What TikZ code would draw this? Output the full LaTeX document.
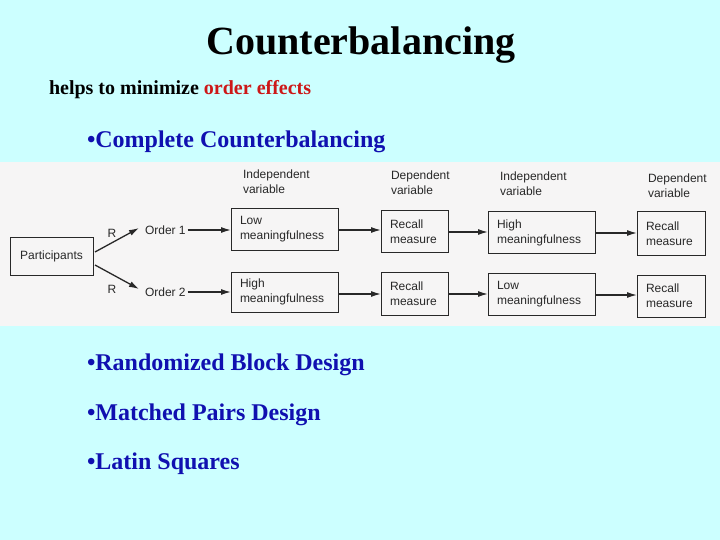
\documentclass[tikz,border=0pt]{standalone}
\usepackage{fontspec}
\setmainfont{Liberation Serif}
\newfontfamily\diagfont{Liberation Sans}
\usetikzlibrary{arrows.meta}
\definecolor{bgcyan}{RGB}{204,255,255}
\definecolor{photo}{RGB}{246,245,245}
\definecolor{bulletblue}{RGB}{16,16,176}
\definecolor{ordred}{RGB}{204,24,24}
\definecolor{ink}{RGB}{40,40,40}
\begin{document}
\begin{tikzpicture}[x=1pt,y=-1pt,
  every node/.style={inner sep=0pt, outer sep=0pt},
  heading/.style={font=\fontsize{40}{44}\selectfont\bfseries, anchor=base},
  sub/.style={font=\fontsize{20}{23}\selectfont\bfseries, anchor=base west},
  bul/.style={font=\fontsize{24}{28}\selectfont\bfseries, text=bulletblue, anchor=base west},
  box/.style={draw=ink, line width=1pt, anchor=north west, align=left,
    font=\diagfont\fontsize{12}{15}\selectfont, text=ink, inner xsep=9pt},
  lbl/.style={font=\diagfont\fontsize{12}{15}\selectfont, text=ink, align=left, anchor=north west},
  arr/.style={draw=ink, line width=1.3pt, -{Latex[length=10pt,width=6pt]}}
]
\useasboundingbox (0,0) rectangle (720,540);
\fill[bgcyan] (0,0) rectangle (720,540);
\fill[photo] (0,162) rectangle (720,326);

\node[heading] (title) at (361,55) {Counterbalancing};
\node[sub] (subt) at (49,95) {helps to minimize \textcolor{ordred}{order effects}};
\node[bul] (b1) at (87,148) {•Complete Counterbalancing};
\node[bul] (b2) at (87,370) {•Randomized Block Design};
\node[bul] (b3) at (87,420) {•Matched Pairs Design};
\node[bul] (b4) at (87,469) {•Latin Squares};

% diagram
\node[box, minimum width=83pt, minimum height=38pt, inner xsep=8pt] (part) at (10,237) {Participants};
\node[lbl, anchor=west] (o1) at (145,230) {Order 1};
\node[lbl, anchor=west] (o2) at (145,292) {Order 2};
\node[lbl, anchor=center] (r1) at (112,233) {R};
\node[lbl, anchor=center] (r2) at (112,289) {R};

\node[box, text width=89pt, minimum height=41pt, inner xsep=9pt] (lm1) at (231,209) {Low\\meaningfulness};
\node[box, text width=89pt, minimum height=40pt, inner xsep=9pt] (hm1) at (231,272) {High\\meaningfulness};
\node[box, text width=49pt, minimum height=41pt, inner xsep=9pt] (rc1) at (381,211) {Recall\\measure};
\node[box, text width=49pt, minimum height=43pt, inner xsep=9pt] (rc2) at (381,272) {Recall\\measure};
\node[box, text width=89pt, minimum height=41pt, inner xsep=9pt] (hm2) at (488,212) {High\\meaningfulness};
\node[box, text width=89pt, minimum height=42pt, inner xsep=9pt] (lm2) at (488,273) {Low\\meaningfulness};
\node[box, text width=50pt, minimum height=43pt, inner xsep=9pt] (rc3) at (637,212) {Recall\\measure};
\node[box, text width=50pt, minimum height=42pt, inner xsep=9pt] (rc4) at (637,275) {Recall\\measure};

\node[lbl] (iv1) at (243,170) {Independent\\variable};
\node[lbl] (dv1) at (391,171) {Dependent\\variable};
\node[lbl] (iv2) at (500,172) {Independent\\variable};
\node[lbl] (dv2) at (648,174) {Dependent\\variable};

\coordinate (p1) at (95,252);
\coordinate (p2) at (95,265);
\coordinate (t1) at (139,228);
\coordinate (t2) at (139,289);
\draw[arr] (p1) -- (t1);
\draw[arr] (p2) -- (t2);
\draw[arr] (o1.east) ++(2,0) -- (lm1.west |- o1.east);
\draw[arr] (o2.east) ++(2,0) -- (hm1.west |- o2.east);
\draw[arr] (lm1.east |- 0,230) -- (rc1.west |- 0,230);
\draw[arr] (hm1.east |- 0,294) -- (rc2.west |- 0,294);
\draw[arr] (rc1.east |- 0,232) -- (hm2.west |- 0,232);
\draw[arr] (rc2.east |- 0,294) -- (lm2.west |- 0,294);
\draw[arr] (hm2.east |- 0,233) -- (rc3.west |- 0,233);
\draw[arr] (lm2.east |- 0,295) -- (rc4.west |- 0,295);
\end{tikzpicture}
\end{document}
